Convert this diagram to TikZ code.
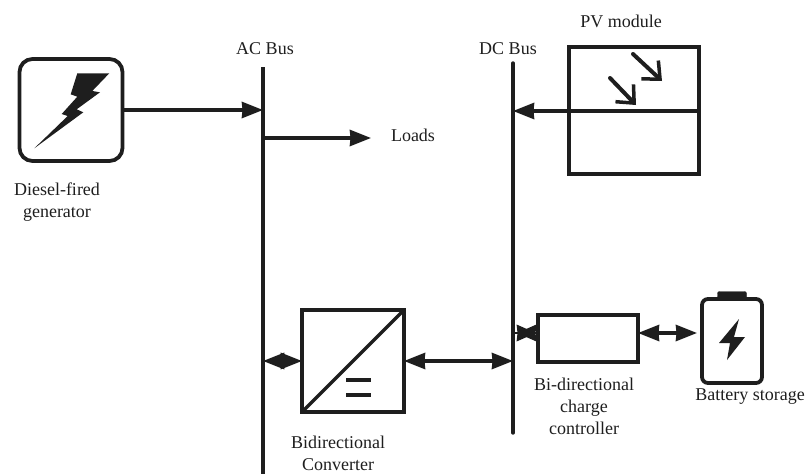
\documentclass[tikz,border=0pt]{standalone}
\usepackage{fontspec}
\setmainfont{Liberation Serif}
\usetikzlibrary{arrows.meta}
\definecolor{ink}{HTML}{1E1E1E}
\tikzset{
  wire/.style={line width=3.4pt, draw=ink},
  arr/.style={wire, -{Stealth[length=21pt, width=16pt, inset=0.5pt]}},
  biarr/.style={wire, {Stealth[length=21pt, width=16pt, inset=0.5pt]}-{Stealth[length=21pt, width=16pt, inset=0.5pt]}},
  barb/.style={line width=4pt, draw=ink, line cap=round, -{Straight Barb[length=14pt, width=25pt, line width=3.5pt]}},
  box/.style={draw=ink, line width=3.8pt, rectangle, outer sep=0pt, inner sep=0pt},
  lbl/.style={text=ink, align=center, inner sep=0pt, font=\fontsize{18}{22}\selectfont}
}
\begin{document}
\begin{tikzpicture}[x=1pt, y=-1pt]

  \useasboundingbox (0,0) rectangle (807,474);

  %% buses
  \coordinate (acTop) at (263,67);
  \coordinate (acBot) at (263,474);
  \coordinate (dcTop) at (513,63);
  \coordinate (dcBot) at (513,433);
  \draw[wire] (acTop) -- (acBot);
  \draw[wire, line cap=round] (dcTop) -- (dcBot);

  \node[lbl] (acLabel) at (265,49) {AC Bus};
  \node[lbl] (dcLabel) at (508,49) {DC Bus};

  %% generator
  \node[box, rounded corners=13pt, minimum width=103pt, minimum height=102pt] (gen) at (71,110) {};
  \fill[ink] (77.3,73.3) -- (109.3,73.3) -- (92.3,91) -- (100,92.3) -- (76.7,109.3) -- (83.3,112.3)
    -- (34.3,148.3) -- (67.7,116) -- (61.7,114) -- (77.3,96.7) -- (70.7,94.3) -- cycle;
  \node[lbl] (genLabel) at (57,202) {Diesel-fired\\generator};

  \draw[arr] (gen.east) -- (gen.east -| acTop); %% gen->AC

  %% loads
  \node[lbl] (loads) at (413,135) {Loads};
  \coordinate (loadsEnd) at (371,138);
  \draw[arr] (loadsEnd -| acTop) -- (loadsEnd); %% AC->loads

  %% PV module
  \node[box, minimum width=130pt, minimum height=127pt] (pv) at (634,110.5) {};
  \node[lbl] (pvLabel) at (621,21) {PV module};
  \coordinate (pvLeft) at (569,111);
  \coordinate (pvRight) at (699,111);
  \draw[wire] (pvLeft) -- (pvRight);
  \draw[arr] (pvLeft) -- (pvLeft -| dcTop); %% PV->DC

  \coordinate (sunA) at (633,54);
  \coordinate (sunB) at (662,81);
  \coordinate (sunC) at (610,78);
  \coordinate (sunD) at (636,105);
  \draw[barb] (sunA) -- (sunB);
  \draw[barb] (sunC) -- (sunD);

  %% converter
  \node[box, minimum width=102pt, minimum height=102pt] (conv) at (353,361) {};
  \draw[wire] (conv.south west) -- (conv.north east);
  \coordinate (eqA) at (346,380);
  \coordinate (eqB) at (371,380);
  \coordinate (eqC) at (346,395);
  \coordinate (eqD) at (371,395);
  \draw[wire] (eqA) -- (eqB);
  \draw[wire] (eqC) -- (eqD);
  \node[lbl] (convLabel) at (338,453) {Bidirectional\\Converter};

  \draw[biarr] (conv.west -| acTop) -- (conv.west); %% AC<->conv
  \draw[biarr] (conv.east) -- (conv.east -| dcTop); %% conv<->DC

  %% charge controller
  \node[box, minimum width=100pt, minimum height=47pt] (ctrl) at (588,338.5) {};
  \node[lbl] (ctrlLabel) at (584,406) {Bi-directional\\charge\\controller};

  \coordinate (ctrlIn) at (ctrl.west |- 0,333);
  \draw[line width=1.5pt, draw=ink] (ctrlIn -| dcTop) -- (ctrlIn);
  \draw[wire, {Stealth[length=19pt, width=16pt, inset=0.5pt, reversed]}-{Stealth[length=19pt, width=16pt, inset=0.5pt, reversed]},
    shorten <=4pt, shorten >=2pt] (ctrlIn -| dcTop) -- (ctrlIn); %% DC<->ctrl

  %% battery
  \node[box, rounded corners=6pt, minimum width=60pt, minimum height=84pt] (batt) at (732,341) {};
  \node[draw=ink, fill=ink, rounded corners=2pt, minimum width=29pt, minimum height=7pt, inner sep=0pt, outer sep=0pt] (battCap) at (732,295) {};
  \fill[ink] (739,319) -- (719,343) -- (730,343) -- (727,360) -- (745,337) -- (734,337) -- cycle;
  \node[lbl] (battLabel) at (750,397) {Battery storage};

  \coordinate (battIn) at (697,333);
  \draw[biarr] (ctrlIn -| ctrl.east) -- (battIn); %% ctrl<->battery

\end{tikzpicture}
\end{document}
